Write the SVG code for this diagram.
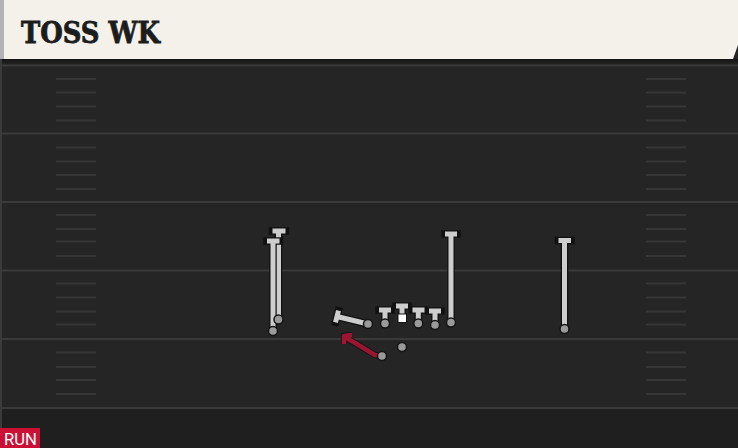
<svg xmlns="http://www.w3.org/2000/svg" width="738" height="448" viewBox="0 0 738 448">
<defs>
<style>
.yl{stroke:#3a3a3a;stroke-width:2;fill:none}
.hm{stroke:#363636;stroke-width:2;fill:none}
.ro{stroke:#111111;stroke-width:7.5;fill:none;stroke-linecap:square}
.rf{stroke:#cdcdcd;stroke-width:5;fill:none;stroke-linecap:butt}
.pl{fill:#9a9a9a;stroke:#151515;stroke-width:1.5}
.rr{stroke:#9b1530;stroke-width:4.5;fill:none;stroke-linejoin:round}
.rro{stroke:#151515;stroke-width:6.5;fill:none;stroke-linejoin:round}
.title{font-family:"DejaVu Serif",serif;font-weight:bold;font-size:29px;fill:#1c1c1c;stroke:#1c1c1c;stroke-width:0.8}
</style>
<linearGradient id="sh" x1="0" y1="0" x2="0" y2="1">
<stop offset="0" stop-color="#141414"/>
<stop offset="1" stop-color="#262626"/>
</linearGradient>
<path id="pR1" d="M273,331 V241 M267,241 H279.5"/>
<path id="pR2" d="M278.5,319.5 V231 M272.5,231 H285.5"/>
<path id="pRB" d="M368,324 L337,316.5 M338.5,310.7 L335.5,322.3"/>
<path id="pL1" d="M385,323.5 V310 M379,310 H391"/>
<path id="pC" d="M402,314 V306 M396,306 H408"/>
<path id="pL2" d="M418.3,323.5 V310 M412.5,310 H424.5"/>
<path id="pL3" d="M435,325 V311 M429,311 H441"/>
<path id="pW1" d="M451,322.5 V234 M445,234 H457"/>
<path id="pW2" d="M564.5,329 V240.5 M558.5,240.5 H571"/>
</defs>
<rect x="0" y="0" width="738" height="448" fill="#252525"/>
<rect x="0" y="408" width="738" height="40" fill="#1f1f1f"/>
<rect x="0" y="59" width="738" height="6" fill="url(#sh)"/>
<rect x="0" y="59" width="2" height="389" fill="#3a3a3a"/>
<g id="field">
<path class="yl" d="M0,65.5 H738 M0,133.5 H738 M0,202 H738 M0,270.5 H738 M0,339 H738 M0,408 H738"/>
<path class="hm" d="M56,79 H96 M56,92.5 H96 M56,106.5 H96 M56,120.5 H96 M56,147.5 H96 M56,161.5 H96 M56,175 H96 M56,189 H96 M56,215 H96 M56,229 H96 M56,241.5 H96 M56,256 H96 M56,283.5 H96 M56,297.5 H96 M56,311.5 H96 M56,324.5 H96 M56,352.5 H96 M56,367 H96 M56,380 H96 M56,394 H96"/>
<path class="hm" d="M646,79 H686 M646,92.5 H686 M646,106.5 H686 M646,120.5 H686 M646,147.5 H686 M646,161.5 H686 M646,175 H686 M646,189 H686 M646,215 H686 M646,229 H686 M646,241.5 H686 M646,256 H686 M646,283.5 H686 M646,297.5 H686 M646,311.5 H686 M646,324.5 H686 M646,352.5 H686 M646,367 H686 M646,380 H686 M646,394 H686"/>
</g>
<g id="header">
<path d="M0,0 H738 V45 L733,59 H0 Z" fill="#f4f1ea"/>
<rect x="0" y="0" width="4" height="59" fill="#b3b3b3"/>
<text class="title" x="21" y="43" textLength="139" lengthAdjust="spacingAndGlyphs">TOSS WK</text>
</g>
<g id="connectors">
<use href="#pR2" class="ro"/><use href="#pR2" class="rf"/>
<use href="#pR1" class="ro"/><use href="#pR1" class="rf"/>
<use href="#pRB" class="ro"/><use href="#pRB" class="rf"/>
<use href="#pL1" class="ro"/><use href="#pL1" class="rf"/>
<use href="#pC" class="ro"/><use href="#pC" class="rf"/>
<use href="#pL2" class="ro"/><use href="#pL2" class="rf"/>
<use href="#pL3" class="ro"/><use href="#pL3" class="rf"/>
<use href="#pW1" class="ro"/><use href="#pW1" class="rf"/>
<use href="#pW2" class="ro"/><use href="#pW2" class="rf"/>
<path class="rro" d="M382,356 L375,355 L346,337.5 M344,344 L344,336 L352,335"/>
<path class="rr" d="M382,356 L375,355 L346,337.5 M344,344 L344,336 L352,335"/>
</g>
<g id="wr1"><circle class="pl" cx="278.5" cy="319.5" r="4.5"/></g>
<g id="wr2"><circle class="pl" cx="273" cy="331" r="4.5"/></g>
<g id="rb"><circle class="pl" cx="368" cy="324" r="4.5"/></g>
<g id="lt"><circle class="pl" cx="385" cy="323.5" r="4.5"/></g>
<g id="center"><rect x="398" y="314" width="8.5" height="8.5" fill="#ffffff" stroke="#151515" stroke-width="1"/></g>
<g id="rg"><circle class="pl" cx="418.3" cy="323.5" r="4.5"/></g>
<g id="rt"><circle class="pl" cx="435" cy="325" r="4.5"/></g>
<g id="te"><circle class="pl" cx="451" cy="322.5" r="4.5"/></g>
<g id="wr3"><circle class="pl" cx="564.5" cy="329" r="4.5"/></g>
<g id="qb"><circle class="pl" cx="402" cy="347" r="4.5"/></g>
<g id="tb"><circle class="pl" cx="382" cy="356" r="4.5"/></g>
<g id="tag">
<rect x="0" y="428" width="40" height="20" fill="#cc0f35"/>
<text x="4" y="445" font-family="Roboto, sans-serif" font-size="17" fill="#ffffff" textLength="33" lengthAdjust="spacingAndGlyphs">RUN</text>
</g>
</svg>
